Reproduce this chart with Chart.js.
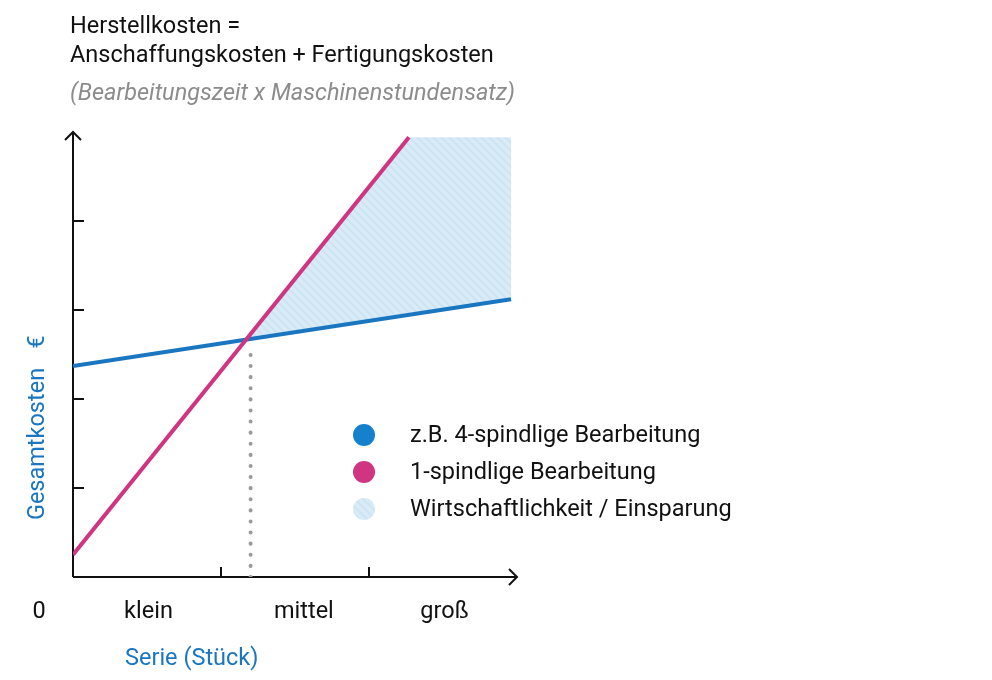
<!DOCTYPE html>
<html>
<head>
<meta charset="utf-8">
<script src="https://cdn.jsdelivr.net/npm/chart.js@4/dist/chart.umd.min.js"></script>
<style>
  html, body { margin: 0; padding: 0; background: #fff; }
  #wrap { width: 992px; height: 680px; }
</style>
</head>
<body>
<div id="wrap"><canvas id="chart-area" width="992" height="680"></canvas></div>
<script>
'use strict';

const titleLines = ['Herstellkosten =', 'Anschaffungskosten + Fertigungskosten'];
const subtitleText = '(Bearbeitungszeit x Maschinenstundensatz)';
const yTitle = 'Gesamtkosten';
const yUnit = '€';
const xTitle = 'Serie (Stück)';
const zeroLabel = '0';
const xLabels = ['klein', 'mittel', 'groß'];
const xLabelAt = [0.51, 1.56, 2.51];
const xTicks = [1, 2];
const yTicks = [1, 2, 3, 4];
const seriesNames = ['z.B. 4-spindlige Bearbeitung', '1-spindlige Bearbeitung', 'Wirtschaftlichkeit / Einsparung'];

// 4-spindlig (blue), 1-spindlig (pink)
const blueX = [0, 2.96], blueY = [2.37, 3.12];
const pinkX = [0, 2.27], pinkY = [0.25, 4.94];
// savings area between the two lines, right of break-even
const areaX = [1.17, 2.27, 2.96, 2.96, 1.17];
const areaY = [2.67, 4.94, 4.94, 3.12, 2.67];
// break-even marker
const breakX = [1.2, 1.2], breakY = [0, 2.55];

const BLUE = '#1a76c0', PINK = '#cf3581', GREY = '#9a9a9a';
const FONT = 'Roboto, "Noto Sans", sans-serif';
const FS = '23.5px ';

var toPoints = (xs, ys) => xs.map((x, i) => ({x: x, y: ys[i]}));

var makeStripes = () => {
  const c = document.createElement('canvas');
  c.width = 8; c.height = 8;
  const g = c.getContext('2d');
  g.fillStyle = '#d8ebf7';
  g.fillRect(0, 0, 8, 8);
  g.strokeStyle = '#cce4f3';
  g.lineWidth = 2;
  g.beginPath();
  g.moveTo(-2, -2); g.lineTo(10, 10);
  g.moveTo(-2, 6); g.lineTo(2, 10);
  g.moveTo(6, -2); g.lineTo(10, 2);
  g.stroke();
  return g.createPattern(c, 'repeat');
};

const axesPlugin = {
  id: 'axes',
  beforeDatasetsDraw(chart) {
    const ctx = chart.ctx, xs = chart.scales.x, ys = chart.scales.y;
    const x0 = xs.getPixelForValue(0), y0 = ys.getPixelForValue(0);
    const xEnd = xs.getPixelForValue(3), yEnd = ys.getPixelForValue(5);
    ctx.save();
    ctx.strokeStyle = '#111';
    ctx.lineWidth = 2;
    ctx.beginPath();
    ctx.moveTo(x0, y0); ctx.lineTo(xEnd - 1, y0);
    ctx.moveTo(x0, y0); ctx.lineTo(x0, yEnd + 1);
    for (const t of xTicks) {
      const px = xs.getPixelForValue(t);
      ctx.moveTo(px, y0); ctx.lineTo(px, y0 - 10);
    }
    for (const t of yTicks) {
      const py = ys.getPixelForValue(t);
      ctx.moveTo(x0, py); ctx.lineTo(x0 + 11, py);
    }
    ctx.stroke();
    // arrow heads
    ctx.beginPath();
    ctx.moveTo(xEnd - 8, y0 - 8); ctx.lineTo(xEnd, y0); ctx.lineTo(xEnd - 8, y0 + 8);
    ctx.moveTo(x0 - 8, yEnd + 8); ctx.lineTo(x0, yEnd); ctx.lineTo(x0 + 8, yEnd + 8);
    ctx.stroke();
    ctx.restore();
  },
  afterDraw(chart) {
    const ctx = chart.ctx, xs = chart.scales.x;
    ctx.save();
    ctx.font = FS + FONT;
    ctx.textBaseline = 'alphabetic';
    ctx.textAlign = 'left';
    ctx.fillStyle = '#111';
    ctx.fillText(titleLines[0], 70, 33);
    ctx.fillText(titleLines[1], 70, 62);
    ctx.font = 'italic ' + FS + FONT;
    ctx.fillStyle = '#8c8c8c';
    ctx.fillText(subtitleText, 70, 100);

    // category labels
    ctx.font = FS + FONT;
    ctx.fillStyle = '#111';
    ctx.textAlign = 'center';
    xLabels.forEach((lab, i) => ctx.fillText(lab, xs.getPixelForValue(xLabelAt[i]), 618));
    ctx.fillText(zeroLabel, 39, 618);

    // axis titles
    ctx.fillStyle = BLUE;
    ctx.textAlign = 'left';
    ctx.fillText(xTitle, 125, 665);
    ctx.save();
    ctx.translate(44, 0);
    ctx.rotate(-Math.PI / 2);
    ctx.textAlign = 'center';
    ctx.fillText(yTitle, -444, 0);
    ctx.fillText(yUnit, -342, 0);
    ctx.restore();

    // legend
    const dots = ['#1581cc', PINK, chart.data.datasets[2].backgroundColor];
    ctx.textAlign = 'left';
    ctx.textBaseline = 'middle';
    seriesNames.forEach((name, i) => {
      const cy = 435 + i * 37;
      ctx.beginPath();
      ctx.arc(364, cy, 11, 0, Math.PI * 2);
      ctx.fillStyle = dots[i];
      ctx.fill();
      ctx.fillStyle = '#111';
      ctx.fillText(name, 410, cy + 1);
    });
    ctx.restore();
  }
};

var config = {
  type: 'line',
  data: {
    datasets: [
      {
        label: seriesNames[0],
        data: toPoints(blueX, blueY),
        borderColor: BLUE,
        borderWidth: 4,
        pointRadius: 0,
        order: 1
      },
      {
        label: seriesNames[1],
        data: toPoints(pinkX, pinkY),
        borderColor: PINK,
        borderWidth: 4,
        pointRadius: 0,
        order: 0
      },
      {
        label: seriesNames[2],
        data: toPoints(areaX, areaY),
        borderWidth: 0,
        borderColor: 'rgba(0,0,0,0)',
        backgroundColor: makeStripes(),
        fill: 'shape',
        pointRadius: 0,
        order: 3
      },
      {
        label: 'Break-even',
        data: toPoints(breakX, breakY),
        borderColor: GREY,
        borderWidth: 4,
        borderDash: [0.1, 11],
        borderCapStyle: 'round',
        pointRadius: 0,
        order: 2
      }
    ]
  },
  options: {
    responsive: false,
    animation: false,
    layout: {padding: {left: 73, right: 475, top: 132, bottom: 103}},
    scales: {
      x: {type: 'linear', min: 0, max: 3, display: false},
      y: {type: 'linear', min: 0, max: 5, display: false}
    },
    plugins: {
      legend: {display: false},
      tooltip: {enabled: false}
    }
  },
  plugins: [axesPlugin]
};

window.onload = function() {
  var ctx = document.getElementById('chart-area').getContext('2d');
  window.myChart = new Chart(ctx, config);
};
</script>
</body>
</html>
